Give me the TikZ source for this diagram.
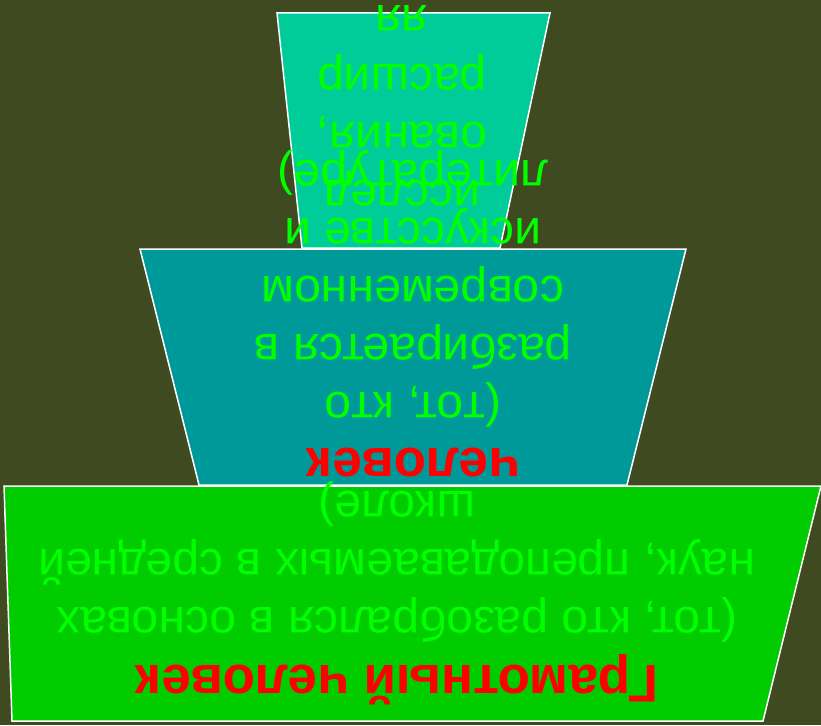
\documentclass[tikz,border=0pt]{standalone}
\usepackage{fontspec}
\setmainfont{Liberation Sans}
\definecolor{bgolive}{HTML}{3F4A20}
\definecolor{topfill}{HTML}{00CC99}
\definecolor{midfill}{HTML}{009999}
\definecolor{lowfill}{HTML}{00CC00}
\definecolor{txtgreen}{HTML}{00FF00}
\definecolor{txtred}{HTML}{FF0000}
\tikzset{
  layerbox/.style={draw=white, line width=1.5pt},
  greentxt/.style={text=txtgreen, rotate=180, anchor=base, inner sep=0pt, font=\fontsize{48}{58}\selectfont},
  redtxt/.style={text=txtred, rotate=180, anchor=base, inner sep=0pt, font=\fontsize{53}{64}\selectfont\bfseries}
}
\begin{document}
\begin{tikzpicture}[x=1pt,y=-1pt]
    % background
    \fill[bgolive] (0,0) rectangle (821,725);
    \useasboundingbox (0,0) rectangle (821,725);

    % Top box
    \filldraw[layerbox, fill=topfill] (277,13) -- (550,13) -- (500,248) -- (302,248) -- cycle;
    \node[greentxt] (top1) at (402,180) {исслед};
    \node[greentxt] (top2) at (402,122) {ования,};
    \node[greentxt] (top3) at (402,64) {расшир};
    \node[greentxt] (top4) at (402,6) {яя};

    % Middle box
    \filldraw[layerbox, fill=midfill] (140,249) -- (686,249) -- (627,485) -- (199,485) -- cycle;
    \node[redtxt] (mid1) at (413,448) {человек};
    \node[greentxt] (mid2) at (413,392) {(тот, кто};
    \node[greentxt] (mid3) at (413,334) {разбирается в};
    \node[greentxt] (mid4) at (413,276) {современном};
    \node[greentxt] (mid5) at (413,218) {искусстве и};
    \node[greentxt] (mid6) at (413,160) {литературе)};

    % Bottom box
    \filldraw[layerbox, fill=lowfill] (4,486) -- (821,486) -- (763,721) -- (12,721) -- cycle;
    \node[greentxt] (low1) at (397,491) {школе)};
    \node[greentxt] (low2) at (397,549) {наук, преподаваемых в средней};
    \node[greentxt] (low3) at (397,607) {(тот, кто разобрался в основах};
    \node[redtxt] (low4) at (397,665) {Грамотный человек};

\end{tikzpicture}
\end{document}
